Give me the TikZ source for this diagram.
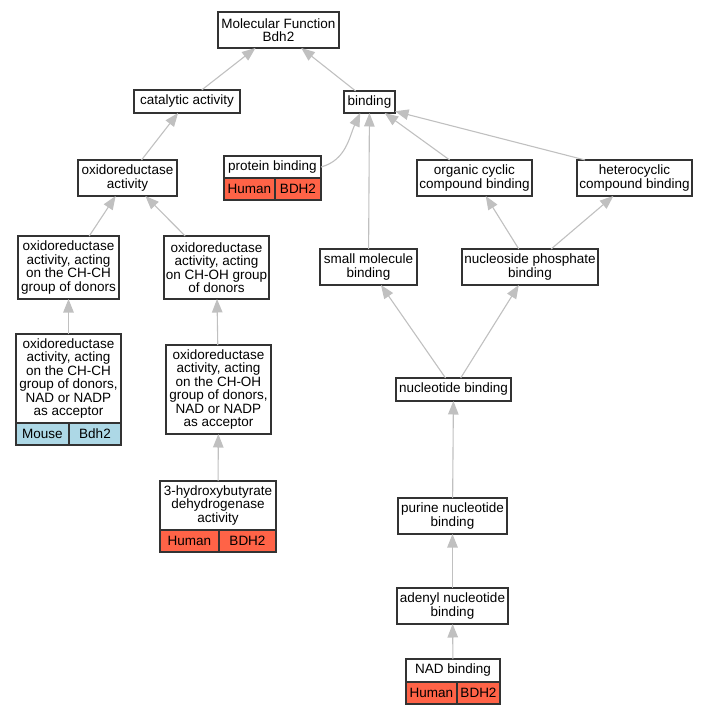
\documentclass[tikz,border=0pt]{standalone}
\usepackage{fontspec}
\setmainfont{Liberation Sans}
\usetikzlibrary{arrows.meta}

\definecolor{humancol}{RGB}{255,99,71}
\definecolor{mousecol}{RGB}{173,216,230}
\definecolor{edgecol}{RGB}{192,192,192}

\begin{document}
\begin{tikzpicture}[x=1pt, y=-1pt,
  font=\fontsize{13.5}{13.4}\selectfont,
  term/.style={draw=black!80, line width=1.1pt, fill=white, inner sep=0pt, outer sep=0pt, align=center},
  human/.style={term, fill=humancol, minimum height=22pt, anchor=north west},
  mouse/.style={term, fill=mousecol, minimum height=22pt, anchor=north west},
  isa/.style={draw=edgecol, line width=1.1pt, -{Triangle[length=13.5pt,width=10.5pt]}}]

\useasboundingbox (0,0) rectangle (708,715);

% terms
\node[term, minimum width=121pt, minimum height=36pt] (mf) at (278.5,30) {Molecular Function\\Bdh2};
\node[term, minimum width=106pt, minimum height=23pt] (cat) at (187,101.5) {catalytic activity};
\node[term, minimum width=51pt, minimum height=22pt] (bind) at (369.5,102) {binding};
\node[term, minimum width=99pt, minimum height=36pt] (oxact) at (127.5,178) {oxidoreductase\\activity};
\node[term, minimum width=97pt, minimum height=22pt] (pbind) at (272.5,167) {protein binding};
\node[term, minimum width=115pt, minimum height=36pt] (ocb) at (474.5,178) {organic cyclic\\compound binding};
\node[term, minimum width=115pt, minimum height=36pt] (hcb) at (634.5,178) {heterocyclic\\compound binding};
\node[term, minimum width=101pt, minimum height=63pt] (chch) at (68.5,267.5) {oxidoreductase\\activity, acting\\on the CH-CH\\group of donors};
\node[term, minimum width=105pt, minimum height=63pt] (choh) at (216.5,267.5) {oxidoreductase\\activity, acting\\on CH-OH group\\of donors};
\node[term, minimum width=97pt, minimum height=36pt] (smb) at (368.5,267) {small molecule\\binding};
\node[term, minimum width=136pt, minimum height=36pt] (nsp) at (530,267) {nucleoside phosphate\\binding};
\node[term, minimum width=105pt, minimum height=89pt] (chchnad) at (68.5,378.5) {oxidoreductase\\activity, acting\\on the CH-CH\\group of donors,\\NAD or NADP\\as acceptor};
\node[term, minimum width=105pt, minimum height=89pt] (chohnad) at (218.5,389.5) {oxidoreductase\\activity, acting\\on the CH-OH\\group of donors,\\NAD or NADP\\as acceptor};
\node[term, minimum width=116pt, minimum height=49pt] (hbd) at (218,505.5) {3-hydroxybutyrate\\dehydrogenase\\activity};
\node[term, minimum width=115pt, minimum height=23pt] (ntb) at (453.5,389.5) {nucleotide binding};
\node[term, minimum width=109pt, minimum height=36pt] (pnb) at (452.5,516) {purine nucleotide\\binding};
\node[term, minimum width=111pt, minimum height=36pt] (anb) at (452.5,606) {adenyl nucleotide\\binding};
\node[term, minimum width=94pt, minimum height=23pt] (nadb) at (453,670.5) {NAD binding};

% annotations
\node[human, minimum width=51pt] (pbindsp) at (pbind.south west) {Human};
\node[human, minimum width=46pt] (pbindgn) at (pbindsp.north east) {BDH2};
\node[mouse, minimum width=53pt] (chchnadsp) at (chchnad.south west) {Mouse};
\node[mouse, minimum width=52pt] (chchnadgn) at (chchnadsp.north east) {Bdh2};
\node[human, minimum width=59pt] (hbdsp) at (hbd.south west) {Human};
\node[human, minimum width=57pt] (hbdgn) at (hbdsp.north east) {BDH2};
\node[human, minimum width=51pt] (nadbsp) at (nadb.south west) {Human};
\node[human, minimum width=43pt] (nadbgn) at (nadbsp.north east) {BDH2};

% is_a edges
\draw[isa] (cat) -- (mf);
\draw[isa] (bind) -- (mf);
\draw[isa] (oxact) -- (cat);
\draw[isa] (chch) -- (oxact);
\draw[isa] (choh) -- (oxact);
\draw[isa] (chchnad) -- (chch);
\draw[isa] (chohnad) -- (choh);
\draw[isa] (hbd) -- (chohnad);
\draw[isa] (pbind.east) to[out=15,in=-115] (bind.-130);
\draw[isa] (smb) -- (bind);
\draw[isa] (ocb) -- (bind);
\draw[isa] (hcb.160) -- (bind.-20);
\draw[isa] (nsp) -- (ocb);
\draw[isa] (nsp) -- (hcb);
\draw[isa] (ntb) -- (smb);
\draw[isa] (ntb) -- (nsp);
\draw[isa] (pnb) -- (ntb);
\draw[isa] (anb) -- (pnb);
\draw[isa] (nadb) -- (anb);

\end{tikzpicture}
\end{document}
